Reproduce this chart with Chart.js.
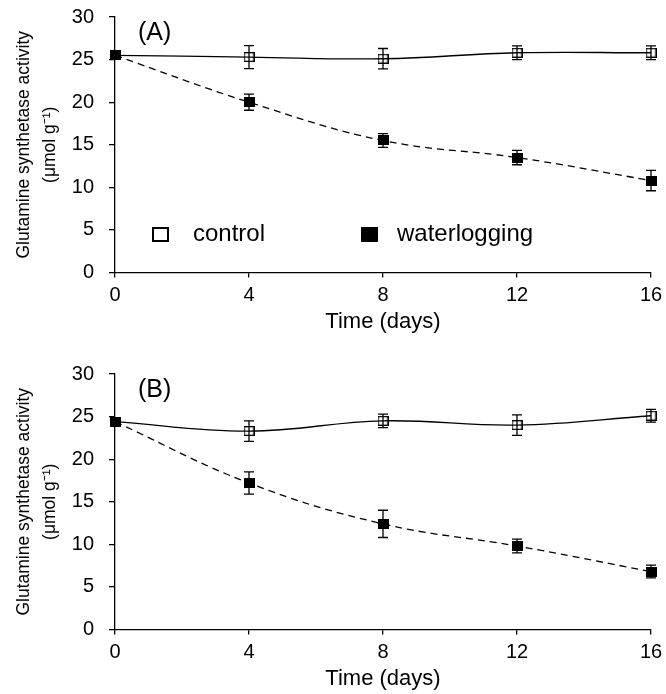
<!DOCTYPE html>
<html>
<head>
<meta charset="utf-8">
<script src="https://cdn.jsdelivr.net/npm/chart.js@4.4.0/dist/chart.umd.min.js"></script>
<style>
  html, body { margin: 0; padding: 0; background: #fff; }
  #page { position: relative; width: 666px; height: 694px; font-family: "Liberation Sans", Arial, sans-serif; color: #000; }
  .panel { position: absolute; left: 0; width: 666px; height: 337px; }
  .panel canvas { display: block; }
  .tag { position: absolute; left: 138px; top: 19px; font-size: 25px; line-height: 25px; }
  .mark { position: absolute; top: 227px; width: 17px; height: 15px; box-sizing: border-box; }
  .mark.open { border: 2px solid #000; background: #fff; }
  .mark.filled { background: #000; }
  .key { position: absolute; top: 221px; font-size: 24px; line-height: 24px; white-space: nowrap; }
</style>
</head>
<body>
<div id="page">
  <div class="panel" style="top:0">
    <canvas id="chartA" width="666" height="337"></canvas>
    <div class="tag">(A)</div>
    <div class="mark open" style="left:152px"></div>
    <div class="key" style="left:193px">control</div>
    <div class="mark filled" style="left:361px"></div>
    <div class="key" style="left:397px">waterlogging</div>
  </div>
  <div class="panel" style="top:357px">
    <canvas id="chartB" width="666" height="337"></canvas>
    <div class="tag">(B)</div>
  </div>
</div>
<script>
const days = [0, 4, 8, 12, 16];
const xTicks = [0, 4, 8, 12, 16];
const yTicks = [0, 5, 10, 15, 20, 25, 30];

// panel A
const controlA = [25.5, 25.3, 25.1, 25.8, 25.8];
const controlErrA = [0, 1.35, 1.2, 0.8, 0.8];
const waterA = [25.5, 20.0, 15.5, 13.5, 10.8];
const waterErrA = [0, 0.95, 0.8, 0.85, 1.2];

// panel B
const controlB = [24.4, 23.3, 24.5, 24.0, 25.1];
const controlErrB = [0, 1.2, 0.8, 1.2, 0.75];
const waterB = [24.4, 17.2, 12.4, 9.8, 6.8];
const waterErrB = [0, 1.3, 1.6, 0.8, 0.75];

const FONT = '"Liberation Sans", Arial, sans-serif';
Chart.defaults.font.family = FONT;
Chart.defaults.color = '#000';

function makeMarker(filled) {
  const c = document.createElement('canvas');
  c.width = 11;
  c.height = 10;
  const g = c.getContext('2d');
  g.strokeStyle = '#000';
  g.fillStyle = '#000';
  if (filled) {
    g.fillRect(0, 0, 11, 10);
  } else {
    g.lineWidth = 1.3;
    g.strokeRect(0.65, 0.65, 9.7, 8.7);
  }
  return c;
}
const openMark = makeMarker(false);
const filledMark = makeMarker(true);

// vertical error bars with caps, drawn after the lines and markers
const errorBars = {
  id: 'errorBars',
  afterDatasetsDraw(chart) {
    const { ctx } = chart;
    const x = chart.scales.x, y = chart.scales.y;
    ctx.save();
    ctx.strokeStyle = '#000';
    ctx.lineWidth = 1.3;
    chart.data.datasets.forEach(ds => {
      ds.data.forEach((p, i) => {
        const e = ds.errors[i];
        if (!e) return;
        const px = x.getPixelForValue(p.x);
        const top = y.getPixelForValue(p.y + e);
        const bot = y.getPixelForValue(p.y - e);
        ctx.beginPath();
        ctx.moveTo(px, top); ctx.lineTo(px, bot);
        ctx.moveTo(px - 5, top); ctx.lineTo(px + 5, top);
        ctx.moveTo(px - 5, bot); ctx.lineTo(px + 5, bot);
        ctx.stroke();
      });
    });
    ctx.restore();
  }
};

function toPoints(values) {
  return days.map((d, i) => ({ x: d, y: values[i] }));
}

function makePanel(id, control, controlErr, water, waterErr) {
  const ctx = document.getElementById(id).getContext('2d');
  return new Chart(ctx, {
    type: 'line',
    data: {
      datasets: [
        {
          label: 'waterlogging',
          data: toPoints(water),
          errors: waterErr,
          borderColor: '#000',
          borderWidth: 1.3,
          borderDash: [7, 5],
          pointStyle: filledMark,
          tension: 0.4,
          clip: false
        },
        {
          label: 'control',
          data: toPoints(control),
          errors: controlErr,
          borderColor: '#000',
          borderWidth: 1.3,
          pointStyle: openMark,
          tension: 0.4,
          clip: false
        }
      ]
    },
    options: {
      responsive: false,
      animation: false,
      devicePixelRatio: 1,
      layout: { padding: { left: 0, right: 15, top: 17, bottom: 0 } },
      plugins: {
        legend: { display: false },
        tooltip: { enabled: false }
      },
      scales: {
        x: {
          type: 'linear',
          min: 0,
          max: 16,
          afterBuildTicks: s => { s.ticks = xTicks.map(v => ({ value: v })); },
          afterFit: s => { s.height = 337 - 272.5; s.paddingLeft = 0; s.paddingRight = 0; },
          grid: { drawOnChartArea: false, tickLength: 5, color: '#000', lineWidth: 1.3 },
          border: { color: '#000', width: 1.3 },
          ticks: { color: '#000', font: { size: 20 }, padding: 6, maxRotation: 0 },
          title: {
            display: true,
            text: 'Time (days)',
            color: '#000',
            font: { size: 22 },
            padding: { top: 0, bottom: 2 }
          }
        },
        y: {
          min: 0,
          max: 30,
          afterBuildTicks: s => { s.ticks = yTicks.map(v => ({ value: v })); },
          afterFit: s => { s.width = 115; s.paddingTop = 0; s.paddingBottom = 0; },
          grid: { drawOnChartArea: false, tickLength: 6, color: '#000', lineWidth: 1.3 },
          border: { color: '#000', width: 1.3 },
          ticks: { color: '#000', font: { size: 20 }, padding: 15 },
          title: {
            display: true,
            text: ['Glutamine synthetase activity', '(\u03bcmol g\u207b\u00b9)'],
            color: '#000',
            font: { size: 17.5, lineHeight: 1.5 },
            padding: { top: 11, bottom: 0 }
          }
        }
      }
    },
    plugins: [errorBars]
  });
}

makePanel('chartA', controlA, controlErrA, waterA, waterErrA);
makePanel('chartB', controlB, controlErrB, waterB, waterErrB);
</script>
</body>
</html>
